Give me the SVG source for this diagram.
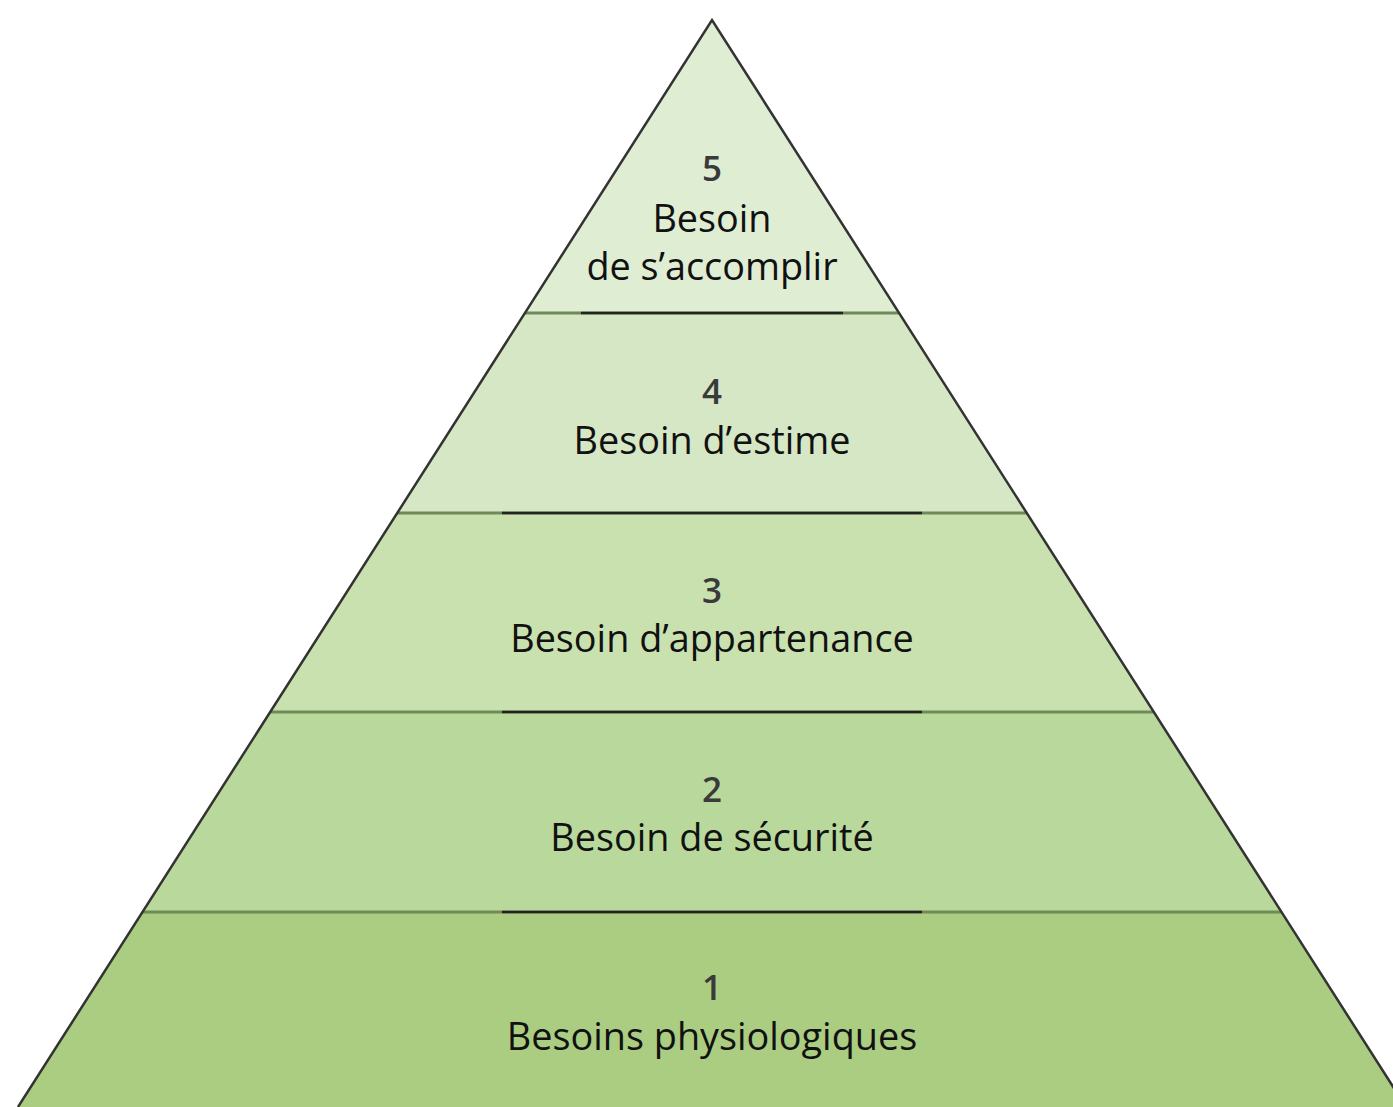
<svg xmlns="http://www.w3.org/2000/svg" width="1393" height="1107" viewBox="0 0 1393 1107">
<style>
.lbl{font-family:"Open Sans","Noto Sans","Liberation Sans",sans-serif;font-size:37.8px;fill:#111;text-anchor:middle}
.num{font-family:"Open Sans","Noto Sans","Liberation Sans",sans-serif;font-size:35px;font-weight:600;fill:#3a3a3a;text-anchor:middle}
.div{stroke:#6e8a56;stroke-width:3}
.divc{stroke:#222;stroke-width:2.5}
</style>
<rect width="1393" height="1107" fill="#fff"/>
<g id="level5">
<polygon points="712,20 899,313 525,313" fill="#dfedd3"/>
<text class="num" x="712" y="181">5</text>
<text class="lbl" x="712" y="232">Besoin</text>
<text class="lbl" x="712" y="280">de s’accomplir</text>
</g>
<g id="level4">
<polygon points="525,313 899,313 1027,513 397,513" fill="#d5e7c4"/>
<text class="num" x="712" y="404">4</text>
<text class="lbl" x="712" y="454">Besoin d’estime</text>
</g>
<g id="level3">
<polygon points="397,513 1027,513 1154,712 270,712" fill="#c9e1ae"/>
<text class="num" x="712" y="603">3</text>
<text class="lbl" x="712" y="652">Besoin d’appartenance</text>
</g>
<g id="level2">
<polygon points="270,712 1154,712 1282,912 142,912" fill="#b9d89b"/>
<text class="num" x="712" y="802">2</text>
<text class="lbl" x="712" y="851">Besoin de sécurité</text>
</g>
<g id="level1">
<polygon points="142,912 1282,912 1406,1107 18,1107" fill="#aacd81"/>
<text class="num" x="712" y="1000">1</text>
<text class="lbl" x="712" y="1050">Besoins physiologiques</text>
</g>
<g id="connectors" fill="none">
<line class="div" x1="525" y1="313" x2="899" y2="313"/>
<line class="divc" x1="581" y1="313" x2="843" y2="313"/>
<line class="div" x1="397" y1="513" x2="1027" y2="513"/>
<line class="divc" x1="502" y1="513" x2="922" y2="513"/>
<line class="div" x1="270" y1="712" x2="1154" y2="712"/>
<line class="divc" x1="502" y1="712" x2="922" y2="712"/>
<line class="div" x1="142" y1="912" x2="1282" y2="912"/>
<line class="divc" x1="502" y1="912" x2="922" y2="912"/>
<polyline points="18,1107 712,20 1406,1107" stroke="#333" stroke-width="2.5" stroke-linejoin="miter"/>
</g>
</svg>
